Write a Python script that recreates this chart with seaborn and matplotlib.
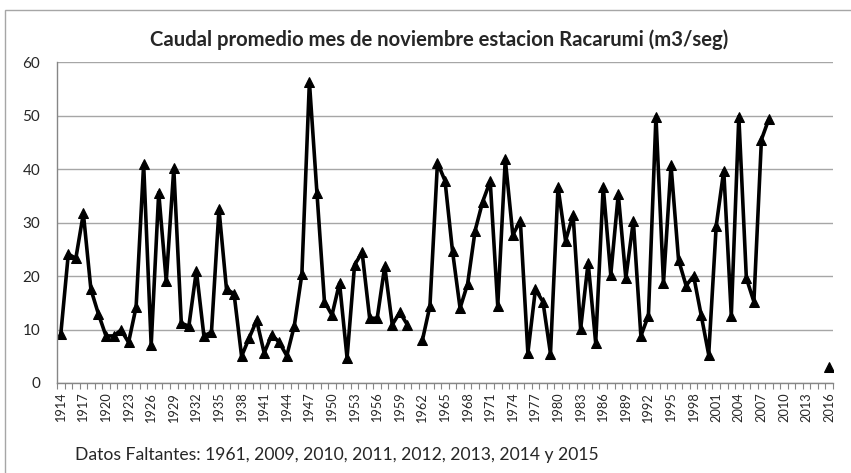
import matplotlib
matplotlib.use('Agg')

import numpy as np
import pandas as pd
import matplotlib.pyplot as plt
import seaborn as sns
from matplotlib.patches import Rectangle

# caudal promedio de noviembre (m3/seg), NaN = dato faltante
years = list(range(1914, 2017))
caudal = [
    9.1, 24.1, 23.3, 31.7, 17.5, 12.9, 8.8, 8.8, 9.9, 7.6,      # 1914-1923
    14.2, 40.9, 7.1, 35.6, 19.0, 40.1, 11.2, 10.6, 21.0, 8.8,   # 1924-1933
    9.5, 32.5, 17.5, 16.7, 5.0, 8.4, 11.7, 5.6, 9.0, 7.6,       # 1934-1943
    5.1, 10.7, 20.3, 56.3, 35.6, 15.2, 12.7, 18.7, 4.7, 22.1,   # 1944-1953
    24.4, 12.1, 12.1, 21.8, 10.9, 13.2, 10.9, np.nan, 8.0, 14.4,  # 1954-1963
    41.2, 37.8, 24.6, 14.0, 18.5, 28.5, 33.9, 37.7, 14.4, 41.8,   # 1964-1973
    27.7, 30.3, 5.6, 17.5, 15.2, 5.5, 36.6, 26.6, 31.4, 10.1,     # 1974-1983
    22.5, 7.5, 36.7, 20.2, 35.3, 19.6, 30.3, 8.8, 12.6, 49.8,     # 1984-1993
    18.7, 40.7, 23.0, 18.2, 20.0, 12.7, 5.3, 29.4, 39.7, 12.6,    # 1994-2003
    49.8, 19.6, 15.2, 45.5, 49.4,                                # 2004-2008
    np.nan, np.nan, np.nan, np.nan, np.nan, np.nan, np.nan,      # 2009-2015
    3.0,                                                         # 2016
]
title = 'Caudal promedio mes de noviembre estacion Racarumi (m3/seg)'
nota = 'Datos Faltantes: 1961, 2009, 2010, 2011, 2012, 2013, 2014 y 2015'

df = pd.DataFrame({'year': years, 'caudal': caudal})
df['pos'] = np.arange(len(df))
# split into contiguous runs so the line breaks at missing years
df['seg'] = df['caudal'].isna().cumsum()
df = df.dropna(subset=['caudal'])

sns.set_theme(style='white')
plt.rcParams['font.family'] = ['Lato', 'DejaVu Sans']

fig = plt.figure(figsize=(8.51, 4.73), dpi=100)
ax = fig.add_axes([57 / 851, 1 - 383 / 473, 776 / 851, 321 / 473])

sns.lineplot(data=df, x='pos', y='caudal', units='seg', estimator=None,
             color='black', linewidth=2.6, marker='^', markersize=7,
             markeredgecolor='black', ax=ax, legend=False)

ax.set_xlim(-0.5, len(years) - 0.5)
ax.set_ylim(0, 60)
ax.set_yticks(range(0, 61, 10))
ax.yaxis.grid(True, color='#a6a6a6', linewidth=1)
ax.xaxis.grid(False)

ax.set_xticks(range(0, len(years), 3))
ax.set_xticklabels([str(y) for y in years[::3]], rotation=90, fontsize=9.2)
ax.set_xticks(np.arange(-0.5, len(years), 1), minor=True)
ax.tick_params(axis='x', which='major', length=0, pad=7)
ax.tick_params(axis='x', which='minor', length=4, width=0.8, color='#868686',
               bottom=True, direction='out')
ax.tick_params(axis='y', length=0, labelsize=11, pad=12)
ax.set_xlabel('')
ax.set_ylabel('')

for side in ['top', 'right']:
    ax.spines[side].set_visible(False)
for side in ['left', 'bottom']:
    ax.spines[side].set_color('#868686')
    ax.spines[side].set_linewidth(1)

fig.text(439 / 851, 1 - 40 / 473, title, ha='center', va='center',
         fontsize=14.6, fontweight='bold')
fig.text(75 / 851, 1 - 455 / 473, nota, ha='left', va='center', fontsize=12.6)

# chart area border
fig.patches.append(Rectangle((5 / 851, -0.1), 1.0, 1 - 10 / 473 + 0.1,
                             transform=fig.transFigure, fill=False,
                             edgecolor='#a6a6a6', linewidth=1))

fig.savefig('out.png', dpi=100)
